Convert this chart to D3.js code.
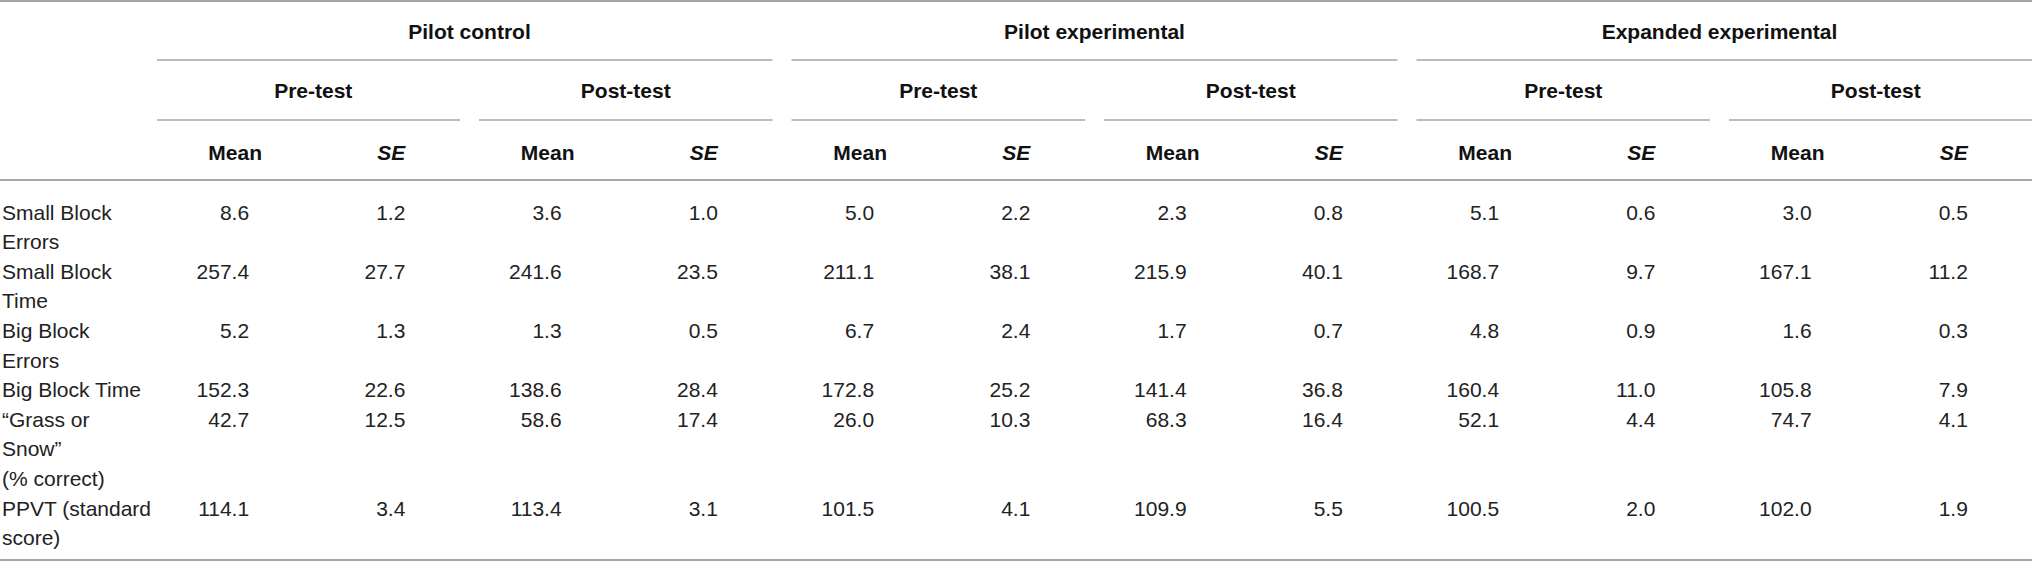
<!DOCTYPE html>
<html>
<head>
<meta charset="utf-8">
<script src="https://cdn.jsdelivr.net/npm/d3@7"></script>
<style>
  body { margin: 0; background: #fff; }
  text { font-family: "Liberation Sans", Arial, Helvetica, sans-serif; font-size: 21px; }
</style>
</head>
<body>
<div id="table"></div>
<script>
// groups -> phases -> stats
var groups = ["Pilot control", "Pilot experimental", "Expanded experimental"];
var phases = ["Pre-test", "Post-test"];
var stats = ["Mean", "SE"];

// row labels, already broken the way the source wraps them
var rowLabels = [
    ["Small Block", "Errors"],
    ["Small Block", "Time"],
    ["Big Block", "Errors"],
    ["Big Block Time"],
    ["\u201cGrass or", "Snow\u201d", "(% correct)"],
    ["PPVT (standard", "score)"]
];

// one array per measure, 12 values: PC pre M/SE, PC post M/SE, PE pre..., EE ...
var smallBlockErrors = ["8.6", "1.2", "3.6", "1.0", "5.0", "2.2", "2.3", "0.8", "5.1", "0.6", "3.0", "0.5"];
var smallBlockTime   = ["257.4", "27.7", "241.6", "23.5", "211.1", "38.1", "215.9", "40.1", "168.7", "9.7", "167.1", "11.2"];
var bigBlockErrors   = ["5.2", "1.3", "1.3", "0.5", "6.7", "2.4", "1.7", "0.7", "4.8", "0.9", "1.6", "0.3"];
var bigBlockTime     = ["152.3", "22.6", "138.6", "28.4", "172.8", "25.2", "141.4", "36.8", "160.4", "11.0", "105.8", "7.9"];
var grassOrSnow      = ["42.7", "12.5", "58.6", "17.4", "26.0", "10.3", "68.3", "16.4", "52.1", "4.4", "74.7", "4.1"];
var ppvt             = ["114.1", "3.4", "113.4", "3.1", "101.5", "4.1", "109.9", "5.5", "100.5", "2.0", "102.0", "1.9"];

var rows = [smallBlockErrors, smallBlockTime, bigBlockErrors, bigBlockTime, grassOrSnow, ppvt];

var width = 2032, height = 568;
var nCols = groups.length * phases.length * stats.length;
var lineColor = "#a6a6a6";
var inset = 9.5;

var svg = d3.select("#table")
    .append("svg")
    .attr("width", width)
    .attr("height", height);

// column boundaries
var x = d3.scaleLinear().domain([0, nCols]).range([157, 2032]);
// text line index -> vertical centre
var y = d3.scaleLinear().domain([0, 1]).range([212, 241.6]);

function segLine(i0, i1, yy) {
    var x1 = i0 === 0 ? x(0) : x(i0) + inset;
    var x2 = i1 === nCols ? width : x(i1) - inset;
    svg.append("line")
        .attr("x1", x1).attr("x2", x2)
        .attr("y1", yy).attr("y2", yy)
        .attr("stroke", lineColor)
        .attr("stroke-width", 1.6);
}

// full width rules
[1, 180, 560].forEach(function(yy) {
    svg.append("line")
        .attr("x1", 0).attr("x2", width)
        .attr("y1", yy).attr("y2", yy)
        .attr("stroke", lineColor)
        .attr("stroke-width", 2);
});

var span = phases.length * stats.length;

// group headers
groups.forEach(function(g, gi) {
    svg.append("text")
        .attr("x", (x(gi * span) + x((gi + 1) * span)) / 2)
        .attr("y", 31)
        .attr("text-anchor", "middle")
        .attr("dominant-baseline", "central")
        .attr("font-weight", "bold")
        .attr("fill", "#111")
        .text(g);
    segLine(gi * span, (gi + 1) * span, 60);

    phases.forEach(function(p, pi) {
        var c0 = gi * span + pi * stats.length;
        svg.append("text")
            .attr("x", (x(c0) + x(c0 + stats.length)) / 2)
            .attr("y", 90)
            .attr("text-anchor", "middle")
            .attr("dominant-baseline", "central")
            .attr("font-weight", "bold")
            .attr("fill", "#111")
            .text(p);
        segLine(c0, c0 + stats.length, 120);

        stats.forEach(function(s, si) {
            var c = c0 + si;
            svg.append("text")
                .attr("x", (x(c) + x(c + 1)) / 2)
                .attr("y", 152)
                .attr("text-anchor", "middle")
                .attr("dominant-baseline", "central")
                .attr("font-weight", "bold")
                .attr("font-style", s === "SE" ? "italic" : "normal")
                .attr("fill", "#111")
                .text(s);
        });
    });
});

// body rows
var lineIdx = 0;
rows.forEach(function(vals, ri) {
    var first = lineIdx;
    rowLabels[ri].forEach(function(t, li) {
        svg.append("text")
            .attr("x", 2)
            .attr("y", y(first + li))
            .attr("dominant-baseline", "central")
            .attr("fill", "#222")
            .text(t);
    });
    svg.selectAll(null)
        .data(vals)
        .enter()
        .append("text")
        .attr("x", function(d, i) { return (x(i) + x(i + 1)) / 2 + 14; })
        .attr("y", y(first))
        .attr("text-anchor", "end")
        .attr("dominant-baseline", "central")
        .attr("fill", "#222")
        .text(function(d) { return d; });
    lineIdx += rowLabels[ri].length;
});
</script>
</body>
</html>
